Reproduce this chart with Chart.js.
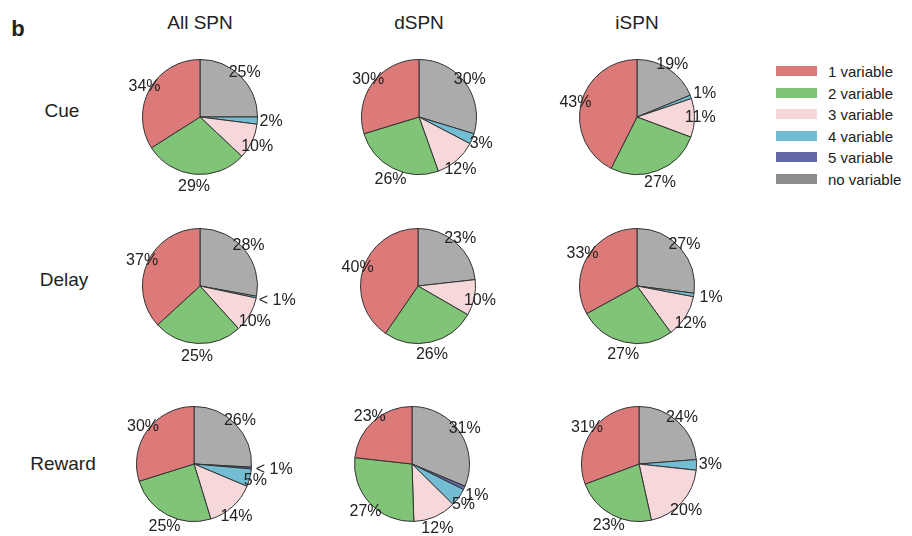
<!DOCTYPE html>
<html>
<head>
<meta charset="utf-8">
<script src="https://cdn.jsdelivr.net/npm/chart.js@4"></script>
<style>
  body { margin: 0; background: #fff; }
  #wrap { position: relative; width: 912px; height: 536px; font-family: "Liberation Sans", Arial, sans-serif; color: #222; }
  .txt { position: absolute; white-space: nowrap; transform: translate(-50%, -50%); }
  canvas { position: absolute; }
  .sw { position: absolute; width: 41px; height: 10px; }
  .lg { position: absolute; font-size: 15px; transform: translateY(-50%); }
</style>
</head>
<body>
<div id="wrap"></div>
<script>
// categories
const categories = ["1 variable", "2 variable", "3 variable", "4 variable", "5 variable", "no variable"];
const columns = ["All SPN", "dSPN", "iSPN"];
const rows = ["Cue", "Delay", "Reward"];

// percentages per pie, in order: 1, 2, 3, 4, 5 variable, no variable
const cueAll = [34, 29, 10, 2, 0, 25];
const cueD = [30, 26, 12, 3, 0, 30];
const cueI = [43, 27, 11, 1, 0, 19];
const delayAll = [37, 25, 10, 0.5, 0, 28];
const delayD = [40, 26, 10, 0, 0, 23];
const delayI = [33, 27, 12, 1, 0, 27];
const rewardAll = [30, 25, 14, 5, 0.5, 26];
const rewardD = [23, 27, 12, 5, 1, 31];
const rewardI = [31, 23, 20, 3, 0, 24];

const pieColors = ["#DC7A7A", "#80C478", "#F7D8DA", "#72BDD3", "#6467A6", "#AAABAA"];
const legendColors = ["#DC7A7A", "#80C478", "#F7D8DA", "#72BDD3", "#6467A6", "#8C8C8C"];

const wrap = document.getElementById("wrap");

function addText(str, x, y, size, bold) {
  const d = document.createElement("div");
  d.className = "txt";
  d.textContent = str;
  d.style.left = x + "px";
  d.style.top = y + "px";
  d.style.fontSize = size + "px";
  if (bold) d.style.fontWeight = "bold";
  wrap.appendChild(d);
}

addText("b", 18, 29, 22, true);
const colX = [200, 419, 637];
columns.forEach((c, i) => addText(c, colX[i], 23, 19));
const rowY = [111, 280, 464];
const rowX = [62, 64, 63];
rows.forEach((r, i) => addText(r, rowX[i], rowY[i], 19));

// legend
categories.forEach((c, i) => {
  const y = 71 + i * 21.5;
  const s = document.createElement("div");
  s.className = "sw";
  s.style.left = "776px";
  s.style.top = (y - 5) + "px";
  s.style.background = legendColors[i];
  wrap.appendChild(s);
  const t = document.createElement("div");
  t.className = "lg";
  t.style.left = "828px";
  t.style.top = y + "px";
  t.textContent = c;
  wrap.appendChild(t);
});

// percentage labels drawn around the pie
const pctLabels = {
  id: "pctLabels",
  afterDatasetsDraw(chart) {
    const ctx = chart.ctx;
    const vals = chart.data.datasets[0].data;
    const arcs = chart.getDatasetMeta(0).data;
    ctx.save();
    ctx.font = '16px "Liberation Sans", Arial, sans-serif';
    ctx.fillStyle = "#222";
    ctx.textAlign = "center";
    ctx.textBaseline = "middle";
    arcs.forEach((a, i) => {
      const v = vals[i];
      if (!v) return;
      const txt = v < 1 ? "< 1%" : v + "%";
      const w = ctx.measureText(txt).width;
      const mid = (a.startAngle + a.endAngle) / 2;
      const cx = Math.cos(mid);
      const dy = Math.sin(mid);
      const r = a.outerRadius * (v < 2 ? 1.18 : 1.1);
      // thin slices: push label sideways so it clears the edge
      const push = v < 5 ? Math.sign(cx) * Math.pow(Math.abs(cx), 10) * w * 0.35 : 0;
      const x = a.x + cx * r + push;
      const y = a.y + dy * r + (dy > 0 ? dy * 7 : 0);
      ctx.fillText(txt, x, y);
    });
    ctx.restore();
  }
};

function drawPie(values, cx, cy) {
  const cv = document.createElement("canvas");
  cv.width = 240;
  cv.height = 180;
  cv.style.left = (cx - 120) + "px";
  cv.style.top = (cy - 90) + "px";
  wrap.appendChild(cv);
  // clockwise from top: no variable, 5, 4, 3, 2, 1
  const order = [5, 4, 3, 2, 1, 0];
  new Chart(cv.getContext("2d"), {
    type: "pie",
    data: {
      labels: order.map((k) => categories[k]),
      datasets: [{
        data: order.map((k) => values[k]),
        backgroundColor: order.map((k) => pieColors[k]),
        borderColor: "#333",
        borderWidth: 1,
        hoverOffset: 0
      }]
    },
    options: {
      responsive: false,
      animation: false,
      layout: { padding: { left: 62, right: 62, top: 32, bottom: 32 } },
      plugins: { legend: { display: false }, tooltip: { enabled: false } }
    },
    plugins: [pctLabels]
  });
}

drawPie(cueAll, 200, 117);
drawPie(cueD, 419, 117);
drawPie(cueI, 637, 117);
drawPie(delayAll, 200, 286);
drawPie(delayD, 418, 286);
drawPie(delayI, 637, 286);
drawPie(rewardAll, 194, 464);
drawPie(rewardD, 412, 464);
drawPie(rewardI, 639, 464);
</script>
</body>
</html>
